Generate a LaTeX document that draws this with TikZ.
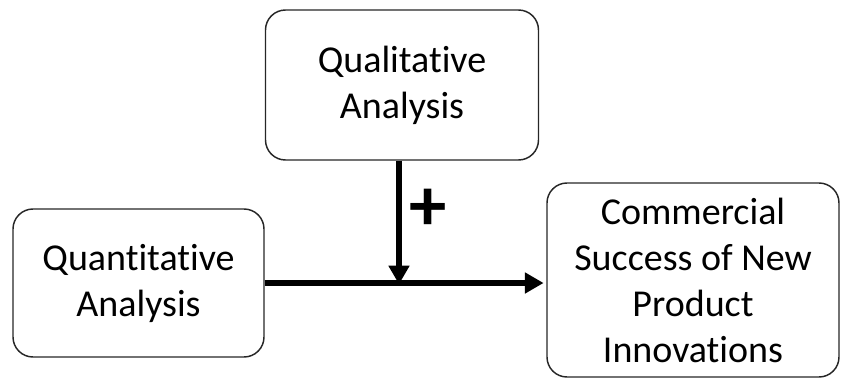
\documentclass[tikz,border=0pt]{standalone}
\usepackage{fontspec}
\setmainfont[Ligatures=NoCommon]{Carlito}
\usetikzlibrary{arrows.meta}

\begin{document}
\begin{tikzpicture}[x=0.75pt,y=-0.75pt,
  box/.style={draw=black!85, line width=1.1pt, rounded corners=15pt, align=center,
    font=\fontsize{28.5}{34.5}\selectfont, inner sep=0pt},
  link/.style={line width=3.8pt, -{Triangle[length=14pt,width=15pt]}}]
\useasboundingbox (0,0) rectangle (844,379);
\node[box, minimum width=273*0.75pt, minimum height=150*0.75pt] (qual) at (402,85) {Qualitative\\Analysis};
\node[box, minimum width=251*0.75pt, minimum height=148*0.75pt] (quant) at (138.5,283) {Quantitative\\Analysis};
\node[box, minimum width=292*0.75pt, minimum height=194*0.75pt] (comm) at (693,280) {Commercial\\Success of New\\Product\\Innovations};
\coordinate (join) at (399,283);
\draw[link, shorten >=2pt] (quant.east |- join) -- (comm.west |- join);
\draw[link, shorten >=-1pt] (qual.south -| join) -- (join);
\node[font=\fontsize{56}{56}\selectfont\bfseries] (plus) at (428,210) {+};
\end{tikzpicture}
\end{document}
